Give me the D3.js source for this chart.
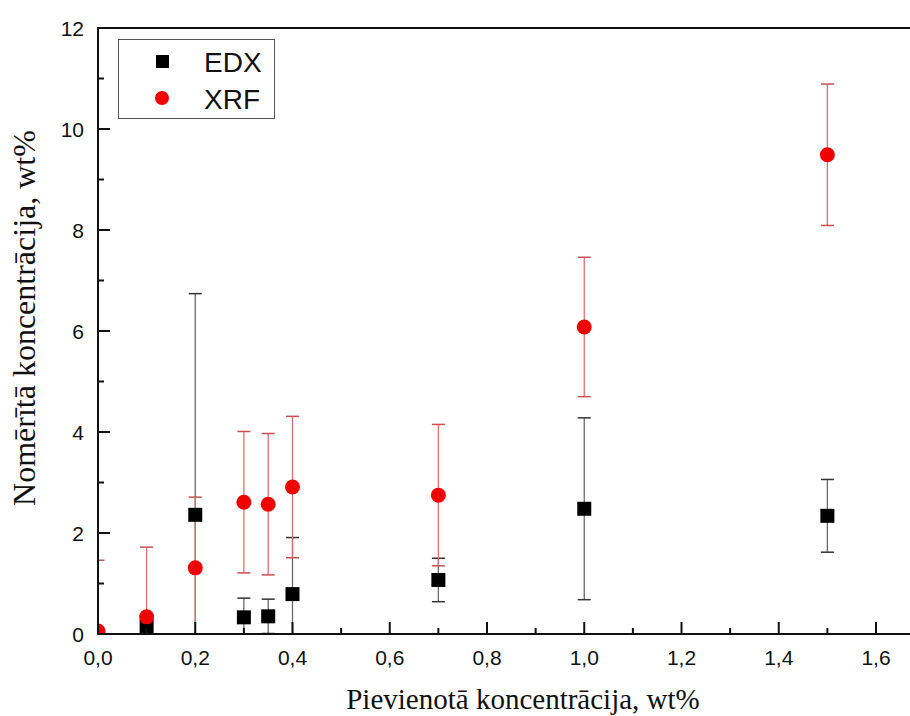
<!DOCTYPE html>
<html>
<head>
<meta charset="utf-8">
<script src="https://cdn.jsdelivr.net/npm/d3@7"></script>
<style>
  body { margin: 0; background: #fff; }
  svg { display: block; }
  .tick-label { font-family: "Liberation Sans", Arial, sans-serif; font-size: 21px; fill: #111; }
  .axis-title { font-family: "Liberation Serif", "Times New Roman", serif; font-size: 29px; fill: #111; }
</style>
</head>
<body>
<div id="chart"></div>
<script>
/* Scatter with error bars: EDX vs XRF */

const width = 910,
    height = 716,
    margin = ({ top: 28, right: 0, bottom: 82, left: 98 });

// data
const edxX   = [0.1, 0.2, 0.3, 0.35, 0.4, 0.7, 1.0, 1.5];
const edxY   = [0.15, 2.36, 0.33, 0.35, 0.79, 1.07, 2.48, 2.34];
const edxErr = [0.2, 4.38, 0.38, 0.34, 1.12, 0.43, 1.8, 0.72];

const xrfX   = [0.0, 0.1, 0.2, 0.3, 0.35, 0.4, 0.7, 1.0, 1.5];
const xrfY   = [0.06, 0.34, 1.31, 2.61, 2.57, 2.91, 2.75, 6.08, 9.49];
const xrfErr = [1.4, 1.38, 1.4, 1.4, 1.4, 1.4, 1.4, 1.38, 1.4];

const xTicks = [0, 0.2, 0.4, 0.6, 0.8, 1.0, 1.2, 1.4, 1.6];
const yTicks = [0, 2, 4, 6, 8, 10, 12];

const svg = d3.select("#chart")
    .append("svg")
    .attr("width", width)
    .attr("height", height);

let x = d3.scaleLinear()
    .domain([0, 1.6])
    .range([margin.left, 876]);

let y = d3.scaleLinear()
    .domain([0, 12])
    .range([height - margin.bottom, margin.top]);

const fmt = d => d3.format(".1f")(d).replace(".", ",");

// clip to plot area
svg.append("clipPath").attr("id", "plot")
  .append("rect")
    .attr("x", margin.left)
    .attr("y", margin.top)
    .attr("width", width - margin.left)
    .attr("height", y(0) - margin.top);

const plot = svg.append("g").attr("clip-path", "url(#plot)");

function errorBars(xs, ys, es, lineColor, capColor) {
  const g = plot.append("g");
  xs.forEach((xv, i) => {
    const cx = x(xv), hi = y(ys[i] + es[i]), lo = y(ys[i] - es[i]);
    g.append("line")
      .attr("x1", cx).attr("x2", cx).attr("y1", hi).attr("y2", lo)
      .attr("stroke", lineColor).attr("stroke-width", 1.3);
    [hi, lo].forEach(yy => {
      g.append("line")
        .attr("x1", cx - 6.5).attr("x2", cx + 6.5).attr("y1", yy).attr("y2", yy)
        .attr("stroke", capColor).attr("stroke-width", 1.5);
    });
  });
}

errorBars(edxX, edxY, edxErr, "#6a6a6a", "#333");
errorBars(xrfX, xrfY, xrfErr, "#e07070", "#c85050");

plot.append("g")
  .selectAll("rect")
  .data(edxX)
  .join("rect")
    .attr("x", (d, i) => x(d) - 7)
    .attr("y", (d, i) => y(edxY[i]) - 7)
    .attr("width", 14)
    .attr("height", 14)
    .attr("fill", "#000");

plot.append("g")
  .selectAll("circle")
  .data(xrfX)
  .join("circle")
    .attr("cx", d => x(d))
    .attr("cy", (d, i) => y(xrfY[i]))
    .attr("r", 7.5)
    .attr("fill", "#f00000");

// axes: ticks point inward
const axisColor = "#111";
const xMinor = d3.range(0.1, 1.7, 0.2);
const yMinor = d3.range(1, 12, 2);

svg.append("line")
  .attr("x1", margin.left).attr("x2", width)
  .attr("y1", y(0)).attr("y2", y(0))
  .attr("stroke", axisColor).attr("stroke-width", 2);
svg.append("line")
  .attr("x1", margin.left).attr("x2", width)
  .attr("y1", y(12)).attr("y2", y(12))
  .attr("stroke", axisColor).attr("stroke-width", 2);
svg.append("line")
  .attr("x1", margin.left).attr("x2", margin.left)
  .attr("y1", y(12) - 1).attr("y2", y(0) + 1)
  .attr("stroke", axisColor).attr("stroke-width", 2);

svg.append("g").selectAll("line")
  .data(xTicks.map(d => [d, 12]).concat(xMinor.map(d => [d, 6])))
  .join("line")
    .attr("x1", d => x(d[0])).attr("x2", d => x(d[0]))
    .attr("y1", y(0)).attr("y2", d => y(0) - d[1])
    .attr("stroke", axisColor).attr("stroke-width", 2);

svg.append("g").selectAll("line")
  .data(yTicks.map(d => [d, 12]).concat(yMinor.map(d => [d, 6])))
  .join("line")
    .attr("y1", d => y(d[0])).attr("y2", d => y(d[0]))
    .attr("x1", margin.left).attr("x2", d => margin.left + d[1])
    .attr("stroke", axisColor).attr("stroke-width", 2);

svg.append("g").selectAll("text")
  .data(xTicks)
  .join("text")
    .attr("class", "tick-label")
    .attr("text-anchor", "middle")
    .attr("x", d => x(d))
    .attr("y", y(0) + 31)
    .text(fmt);

svg.append("g").selectAll("text")
  .data(yTicks)
  .join("text")
    .attr("class", "tick-label")
    .attr("text-anchor", "end")
    .attr("x", margin.left - 14)
    .attr("y", d => y(d))
    .attr("dy", "0.36em")
    .text(d => d);

svg.append("text")
  .attr("class", "axis-title")
  .attr("text-anchor", "middle")
  .attr("x", 523)
  .attr("y", 709)
  .text("Pievienotā koncentrācija, wt%");

svg.append("text")
  .attr("class", "axis-title")
  .attr("text-anchor", "middle")
  .style("font-size", "32px")
  .attr("transform", "translate(35,318) rotate(-90)")
  .text("Nomērītā koncentrācija, wt%");

// legend
const legend = svg.append("g");
legend.append("rect")
  .attr("x", 118.5).attr("y", 39.5)
  .attr("width", 156).attr("height", 79)
  .attr("fill", "#fff").attr("stroke", "#555").attr("stroke-width", 1);
legend.append("rect")
  .attr("x", 156).attr("y", 55).attr("width", 13).attr("height", 13)
  .attr("fill", "#000");
legend.append("circle")
  .attr("cx", 162).attr("cy", 98).attr("r", 7)
  .attr("fill", "#f00000");
legend.append("text")
  .attr("class", "tick-label")
  .style("font-size", "28px")
  .attr("x", 204).attr("y", 72)
  .text("EDX");
legend.append("text")
  .attr("class", "tick-label")
  .style("font-size", "28px")
  .attr("x", 204).attr("y", 109)
  .text("XRF");
</script>
</body>
</html>
